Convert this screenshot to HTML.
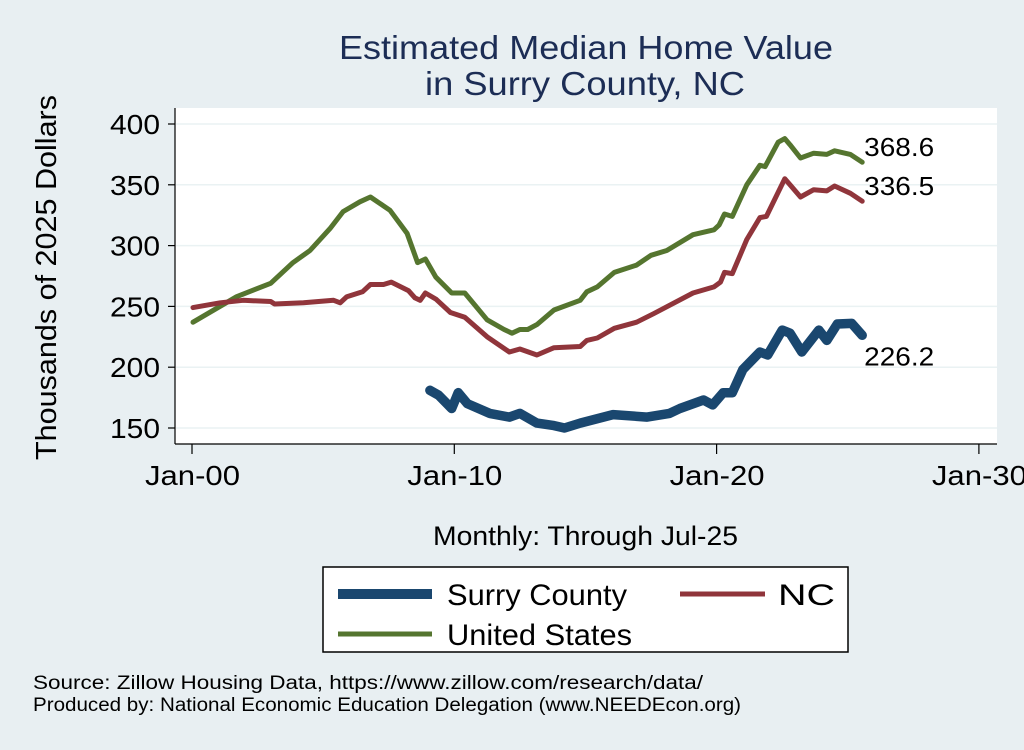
<!DOCTYPE html>
<html><head><meta charset="utf-8">
<style>
html,body{margin:0;padding:0;background:#e8eff2;}
body{width:1024px;height:745px;overflow:hidden;font-family:"Liberation Sans",sans-serif;}
svg text{font-family:"Liberation Sans",sans-serif;}
</style></head>
<body>
<svg id="chart" width="1024" height="745" viewBox="0 0 1024 745" xmlns="http://www.w3.org/2000/svg">
<rect x="0" y="0" width="1024" height="745" fill="#e8eff2"/>
<rect x="175" y="108" width="822" height="336" fill="#ffffff"/>
<text x="339" y="59" font-size="33" textLength="494" lengthAdjust="spacingAndGlyphs" fill="#1c2d55">Estimated Median Home Value</text>
<text x="425" y="95" font-size="33" textLength="320" lengthAdjust="spacingAndGlyphs" fill="#1c2d55">in Surry County, NC</text>
<g id="grid"></g>
<g id="axes"></g>
<g id="series"></g>
<g id="labels"></g>
<text transform="translate(56,460) rotate(-90)" font-size="29" textLength="365" lengthAdjust="spacingAndGlyphs" fill="#000">Thousands of 2025 Dollars</text>
<text x="433" y="545" font-size="27" textLength="305" lengthAdjust="spacingAndGlyphs" fill="#000">Monthly: Through Jul-25</text>
<g>
<rect x="323" y="567" width="525" height="85" fill="#fff" stroke="#000" stroke-width="1.5"/>
<line x1="338" y1="594" x2="432" y2="594" stroke="#1a476f" stroke-width="10"/>
<text x="447" y="605" font-size="30" textLength="180" lengthAdjust="spacingAndGlyphs">Surry County</text>
<line x1="680" y1="594" x2="765" y2="594" stroke="#90353b" stroke-width="5"/>
<text x="778" y="605" font-size="30" textLength="57" lengthAdjust="spacingAndGlyphs">NC</text>
<line x1="338" y1="634" x2="432" y2="634" stroke="#55752f" stroke-width="5"/>
<text x="447" y="645" font-size="30" textLength="185" lengthAdjust="spacingAndGlyphs">United States</text>
</g>
<text x="33" y="689" font-size="19" textLength="670" lengthAdjust="spacingAndGlyphs">Source: Zillow Housing Data, https://www.zillow.com/research/data/</text>
<text x="33" y="711" font-size="19" textLength="708" lengthAdjust="spacingAndGlyphs">Produced by: National Economic Education Delegation (www.NEEDEcon.org)</text>
</svg>
<script>
const yTicks=[150,200,250,300,350,400];
const xTickYears=[0,10,20,30];
const xTickLabels=["Jan-00","Jan-10","Jan-20","Jan-30"];
const usT=[0.04,1.7,3.0,3.85,4.5,5.26,5.76,6.4,6.8,7.55,8.2,8.6,8.9,9.3,9.9,10.4,11.25,11.9,12.2,12.5,12.8,13.15,13.8,14.8,15.05,15.45,16.1,16.95,17.5,18.1,19.1,19.9,20.1,20.3,20.6,21.15,21.65,21.85,22.35,22.6,22.8,23.2,23.7,24.2,24.5,25.1,25.55];
const usV=[237,258,269,286,296,314,328,336,340,329,310,286,289,274,261,261,239,231,228,231,231,235,247,255,262,266,278,284,292,296,309,313,317,326,324,350,366,365,385,388,383,372,376,375,378,375,368.6];
const ncT=[0.04,1.07,1.95,3.0,3.15,4.25,5.4,5.65,5.9,6.5,6.8,7.3,7.6,8.25,8.5,8.7,8.9,9.3,9.85,10.4,11.25,12.1,12.5,13.15,13.8,14.8,15.05,15.45,16.1,16.95,17.6,19.1,19.9,20.15,20.3,20.6,21.15,21.65,21.9,22.6,22.8,23.2,23.7,24.2,24.5,25.1,25.55];
const ncV=[249,253,255,254,252,253,255,253,258,262,268,268,270,263,257,255,261,256,245,241,225,212.5,215,210,216,217,222,224,232,237,244,261,266,270,278,277,305,323,324,355,350,340,346,345,349,343,336.5];
const surT=[9.07,9.4,9.9,10.15,10.5,11.35,12.1,12.5,13.15,13.8,14.2,14.8,16.05,17.35,18.2,18.6,19.5,19.85,20.25,20.6,21.0,21.65,21.95,22.5,22.8,23.25,23.9,24.2,24.6,25.15,25.55];
const surV=[181,177,166,179,170,162,159,162,154,152,150,154,161,159,162,166,173,169,179,179,198,212.5,210,230.5,228,212.5,230.5,222,235.5,236,226.2];
const NS="http://www.w3.org/2000/svg";
function xs(t){return 192+26.23*t;}
function ys(v){return 428-(v-150)*1.216;}
function mk(tag,attrs,parent){const e=document.createElementNS(NS,tag);for(const k in attrs)e.setAttribute(k,attrs[k]);document.getElementById(parent).appendChild(e);return e;}
yTicks.forEach(v=>{
 const g=mk('line',{x1:176,x2:997,y1:ys(v),y2:ys(v),stroke:'#eaf2f3','stroke-width':1.5},'grid');
 
 
 const t=mk('line',{x1:168,x2:175,y1:ys(v),y2:ys(v),stroke:'#000','stroke-width':1.2},'axes');
 
 
 const l=mk('text',{x:110,y:ys(v)+10,'font-size':28,textLength:50,lengthAdjust:'spacingAndGlyphs'},'axes');
 l.textContent=v;
 
 
});
const ya=mk('line',{x1:175,x2:175,y1:108,y2:444,stroke:'#000','stroke-width':1.2},'axes');


const xa=mk('line',{x1:175,x2:997,y1:444,y2:444,stroke:'#000','stroke-width':1.2},'axes');


xTickYears.forEach((yr,i)=>{
 const t=mk('line',{x1:xs(yr),x2:xs(yr),y1:444,y2:454,stroke:'#000','stroke-width':1.2},'axes');
 
 
 const l=mk('text',{x:xs(yr)-47,y:485,'font-size':28,textLength:95,lengthAdjust:'spacingAndGlyphs'},'axes');
 l.textContent=xTickLabels[i];
 
 
});
function path(T,V){return T.map((t,i)=>(i?'L':'M')+xs(t).toFixed(1)+','+ys(V[i]).toFixed(1)).join(' ');}
const pu=mk('path',{d:path(usT,usV),fill:'none',stroke:'#55752f','stroke-width':5,'stroke-linejoin':'round','stroke-linecap':'round'},'series');


const pn=mk('path',{d:path(ncT,ncV),fill:'none',stroke:'#90353b','stroke-width':5,'stroke-linejoin':'round','stroke-linecap':'round'},'series');


const ps=mk('path',{d:path(surT,surV),fill:'none',stroke:'#1a476f','stroke-width':9.5,'stroke-linejoin':'round','stroke-linecap':'round'},'series');


const ends=[[usV,usT,-6,'us'],[ncV,ncT,-6,'nc'],[surV,surT,30,'surry']];
ends.forEach(e=>{
 const V=e[0],T=e[1];const v=V[V.length-1];
 const l=mk('text',{x:xs(T[T.length-1])+2,y:ys(v)+e[2],'font-size':26,textLength:70,lengthAdjust:'spacingAndGlyphs'},'labels');
 l.textContent=v.toFixed(1);
 
 
});
</script>
</body></html>
